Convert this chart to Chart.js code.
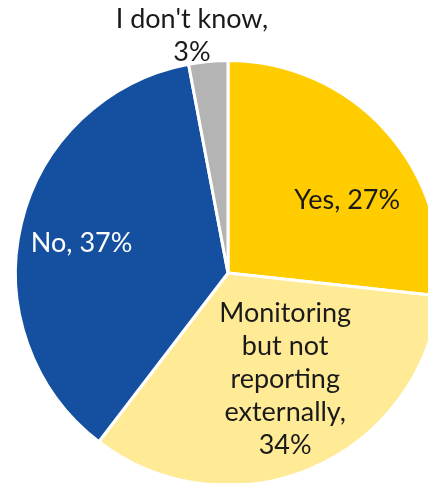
<!DOCTYPE html>
<html>
<head>
<meta charset="utf-8">
<script src="https://cdn.jsdelivr.net/npm/chart.js@4.4.1/dist/chart.umd.min.js"></script>
<style>
  html, body { margin: 0; padding: 0; background: #ffffff; overflow: hidden; width: 428px; height: 483px; }
  #wrap { position: absolute; left: 0; top: 0; width: 456px; height: 546px; }
</style>
</head>
<body>
<div id="wrap"><canvas id="chart" width="456" height="546"></canvas></div>
<script>
// Survey answers and their shares (%)
const categories = ['Yes', 'Monitoring but not reporting externally', 'No', "I don't know"];
const shares = [27, 34, 37, 3];
const sliceColors = ['#FFCC00', '#FFEA96', '#14509F', '#B4B4B4'];
const labelColors = ['#1a1a1a', '#1a1a1a', '#ffffff', '#1a1a1a'];

// Label placement, as fractions of the pie radius from its centre, plus wrap width
const labelPlacement = [
  { fx: 0.561, fy: -0.344, maxWidth: 220 },
  { fx: 0.269, fy: 0.500, maxWidth: 150 },
  { fx: -0.689, fy: -0.142, maxWidth: 220 },
  { fx: -0.170, fy: -1.115, maxWidth: 175 }
];

const FONT = '400 27px Lato, "Open Sans", sans-serif';
const LINE_HEIGHT = 33;

function wrapText(ctx, text, maxWidth) {
  const words = text.split(' ');
  const lines = [];
  let line = '';
  for (const w of words) {
    const test = line ? line + ' ' + w : w;
    if (line && ctx.measureText(test).width > maxWidth) {
      lines.push(line);
      line = w;
    } else {
      line = test;
    }
  }
  if (line) lines.push(line);
  return lines;
}

const sliceLabels = {
  id: 'sliceLabels',
  afterDatasetsDraw(chart) {
    const ctx = chart.ctx;
    const meta = chart.getDatasetMeta(0);
    ctx.save();
    ctx.font = FONT;
    ctx.textAlign = 'center';
    ctx.textBaseline = 'middle';
    meta.data.forEach((arc, i) => {
      const p = labelPlacement[i];
      const R = arc.outerRadius;
      const cx = arc.x + p.fx * R;
      const cy = arc.y + p.fy * R;
      const text = categories[i] + ', ' + shares[i] + '%';
      const lines = wrapText(ctx, text, p.maxWidth);
      const top = cy - (lines.length - 1) * LINE_HEIGHT / 2;
      ctx.fillStyle = labelColors[i];
      lines.forEach((ln, k) => ctx.fillText(ln, cx, top + k * LINE_HEIGHT));
    });
    ctx.restore();
  }
};

new Chart(document.getElementById('chart'), {
  type: 'pie',
  data: {
    labels: categories,
    datasets: [{
      data: shares,
      backgroundColor: sliceColors,
      borderColor: '#ffffff',
      borderWidth: 3
    }]
  },
  options: {
    responsive: false,
    animation: false,
    devicePixelRatio: 1,
    layout: { padding: { left: 14, right: 14, top: 59, bottom: 59 } },
    plugins: {
      legend: { display: false },
      tooltip: { enabled: false }
    }
  },
  plugins: [sliceLabels]
});
</script>
</body>
</html>
